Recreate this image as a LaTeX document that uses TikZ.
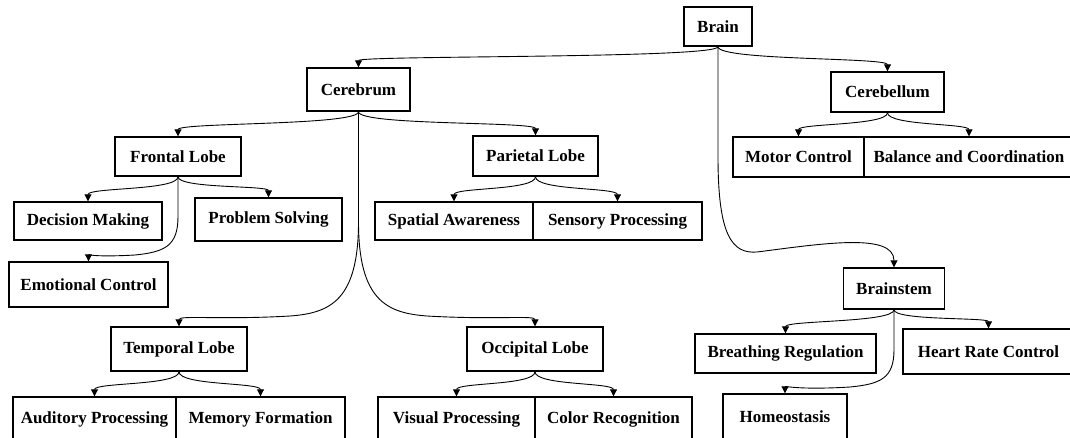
\documentclass[tikz,border=0pt]{standalone}
\usepackage{fontspec}
\setmainfont{Liberation Serif}
\usetikzlibrary{arrows.meta}
\tikzset{
  box/.style={draw=black, line width=1.4pt, inner sep=0pt, fill=white,
    font=\fontsize{17}{19}\selectfont\bfseries, align=center},
  link/.style={draw=black, line width=0.9pt, -{Triangle[width=7pt,length=7pt]}}
}
\newcommand{\lnk}[3]{\draw[link] (#1.south) .. controls +(0,#3) and +(0,-#3) .. (#2.north);}
\begin{document}
\begin{tikzpicture}[x=1pt,y=-1pt]
\fill[white] (0,0) rectangle (1070,437);
\useasboundingbox (0,0) rectangle (1070,437);
% nodes
\node[box, minimum width=68pt, minimum height=39pt] (brain) at (718,26.5) {Brain};
\node[box, minimum width=103pt, minimum height=43pt] (cerebrum) at (358.5,89.5) {Cerebrum};
\node[box, minimum width=113pt, minimum height=40pt] (cerebellum) at (887.5,92) {Cerebellum};
\node[box, minimum width=131pt, minimum height=40pt] (motor) at (798.5,157) {Motor Control};
\node[box, minimum width=210pt, minimum height=40pt] (balance) at (969,157) {Balance and Coordination};
\node[box, minimum width=126pt, minimum height=39pt] (frontal) at (178,156.5) {Frontal Lobe};
\node[box, minimum width=148pt, minimum height=38pt] (decision) at (88,221) {Decision Making};
\node[box, minimum width=147pt, minimum height=43pt] (problem) at (268.5,219.5) {Problem Solving};
\node[box, minimum width=159pt, minimum height=45pt] (emotional) at (88.5,284.5) {Emotional Control};
\node[box, minimum width=125pt, minimum height=40pt] (parietal) at (535.5,156) {Parietal Lobe};
\node[box, minimum width=158pt, minimum height=38pt] (spatial) at (454,221) {Spatial Awareness};
\node[box, minimum width=169pt, minimum height=38pt] (sensory) at (617.5,221) {Sensory Processing};
\node[box, minimum width=101pt, minimum height=41pt] (brainstem) at (894,288.5) {Brainstem};
\node[box, minimum width=181pt, minimum height=39pt] (breathing) at (785.5,353.5) {Breathing Regulation};
\node[box, minimum width=171pt, minimum height=45pt] (heart) at (988.5,351.5) {Heart Rate Control};
\node[box, minimum width=124pt, minimum height=46pt] (homeo) at (785,417) {Homeostasis};
\node[box, minimum width=136pt, minimum height=44pt] (temporal) at (179,349) {Temporal Lobe};
\node[box, minimum width=163pt, minimum height=45pt] (auditory) at (94.5,419.5) {Auditory Processing};
\node[box, minimum width=169pt, minimum height=45pt] (memory) at (260.5,419.5) {Memory Formation};
\node[box, minimum width=136pt, minimum height=44pt] (occipital) at (535,349) {Occipital Lobe};
\node[box, minimum width=157pt, minimum height=45pt] (visual) at (456.5,419.5) {Visual Processing};
\node[box, minimum width=157pt, minimum height=45pt] (color) at (613.5,419.5) {Color Recognition};
% short links
\lnk{brain}{cerebrum}{12}
\lnk{brain}{cerebellum}{14}
\lnk{cerebrum}{frontal}{14}
\lnk{cerebrum}{parietal}{14}
\lnk{frontal}{decision}{14}
\lnk{frontal}{problem}{12}
\lnk{parietal}{spatial}{14}
\lnk{parietal}{sensory}{14}
\lnk{cerebellum}{motor}{13}
\lnk{cerebellum}{balance}{13}
\lnk{brainstem}{breathing}{13}
\lnk{brainstem}{heart}{11}
\lnk{temporal}{auditory}{14}
\lnk{temporal}{memory}{14}
\lnk{occipital}{visual}{14}
\lnk{occipital}{color}{14}
% long links
\draw[link] (brain.south) -- ++(0,110)
  .. controls +(0,79) and (732,254) .. (757,252)
  .. controls (820,244) and (brainstem.north |- 0,232) .. (brainstem.north);
\draw[link] (cerebrum.south) -- ++(0,110)
  .. controls +(0,79) and (330,313) .. (290,316)
  .. controls (220,320) and (temporal.north |- 0,315) .. (temporal.north);
\draw[link] (cerebrum.south) -- ++(0,110)
  .. controls +(0,79) and (387,313) .. (427,316)
  .. controls (497,320) and (occipital.north |- 0,315) .. (occipital.north);
\draw[link] (frontal.south) -- ++(0,40)
  .. controls +(0,29) and (165,252) .. (135,255)
  .. controls (100,257) and (emotional.north |- 0,255) .. (emotional.north);
\draw[link] (brainstem.south) -- ++(0,40)
  .. controls +(0,29) and (880,384) .. (850,387)
  .. controls (800,390) and (homeo.north |- 0,386) .. (homeo.north);
\end{tikzpicture}
\end{document}
